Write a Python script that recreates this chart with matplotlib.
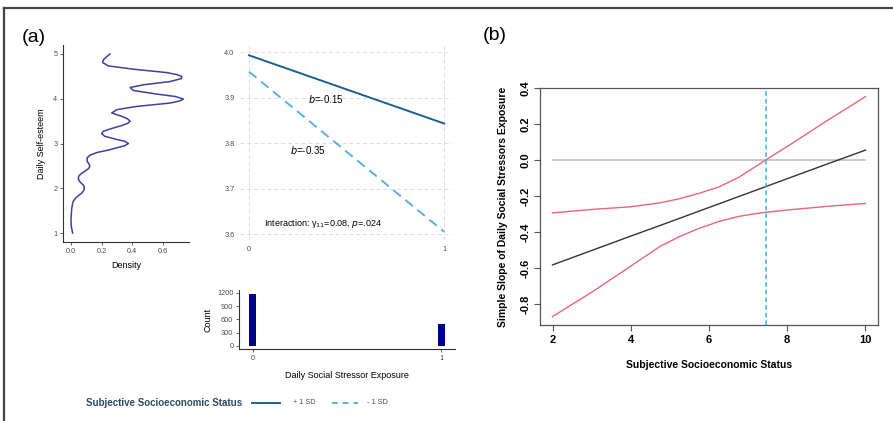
import matplotlib
matplotlib.use("Agg")
import matplotlib.pyplot as plt
from matplotlib.lines import Line2D

plt.rcParams['font.family'] = ['Liberation Sans', 'DejaVu Sans']

# ---- data ----
# density of daily self-esteem (panel a, left)
dens_y = [1.0, 1.15, 1.3, 1.52, 1.65, 1.71, 1.78, 1.84, 1.89, 1.95, 2.0, 2.05, 2.1, 2.15, 2.21,
          2.27, 2.33, 2.38, 2.44, 2.49, 2.54, 2.6, 2.68, 2.74, 2.8, 2.85, 2.904, 2.95, 3.0,
          3.05, 3.089, 3.162, 3.22, 3.273, 3.34, 3.4, 3.45, 3.496, 3.55, 3.607, 3.682, 3.756,
          3.829, 3.87, 3.904, 3.95, 3.993, 4.05, 4.104, 4.184, 4.251, 4.311, 4.384, 4.45,
          4.496, 4.54, 4.584, 4.66, 4.733, 4.807, 4.867, 4.93, 5.0]
dens_x = [0.011, 0.002, 0.0, 0.004, 0.01, 0.015, 0.03, 0.05, 0.07, 0.083, 0.087, 0.085, 0.072,
          0.057, 0.048, 0.05, 0.068, 0.09, 0.115, 0.123, 0.118, 0.106, 0.105, 0.125, 0.17,
          0.24, 0.3, 0.35, 0.375, 0.35, 0.3, 0.22, 0.2, 0.211, 0.27, 0.331, 0.37, 0.386, 0.37,
          0.331, 0.266, 0.3, 0.43, 0.55, 0.647, 0.71, 0.734, 0.68, 0.56, 0.407, 0.386, 0.473,
          0.647, 0.72, 0.723, 0.69, 0.625, 0.407, 0.244, 0.207, 0.211, 0.23, 0.255]

# predicted self-esteem by stressor exposure (panel a, right)
exposure = [0, 1]
high_ses = [3.993, 3.843]   # +1 SD
low_ses = [3.957, 3.605]    # -1 SD

# counts of stressor exposure
count_x = [0, 1]
counts = [1175, 490]

# simple slopes / Johnson-Neyman (panel b)
ses = [2, 3, 4, 4.75, 5.25, 5.75, 6.25, 6.75, 7.2, 7.45, 8, 9, 10]
slope = [-0.583, -0.503, -0.423, -0.364, -0.324, -0.284, -0.244, -0.204, -0.168, -0.148,
         -0.104, -0.024, 0.055]
upper = [-0.294, -0.275, -0.26, -0.238, -0.215, -0.185, -0.15, -0.098, -0.035, 0.0, 0.075,
         0.216, 0.352]
lower = [-0.87, -0.735, -0.59, -0.48, -0.425, -0.38, -0.342, -0.314, -0.298, -0.291, -0.278,
         -0.258, -0.241]
jn_point = 7.45

W, H = 893, 421
fig = plt.figure(figsize=(W / 100, H / 100), dpi=100)


def box(l, t, r, b):
    return [l / W, 1 - b / H, (r - l) / W, (b - t) / H]


gray_txt = "#4d4d4d"

# frame lines
fig.add_artist(Line2D([4 / W, 4 / W], [0, 1 - 8 / H], color="#444444", lw=1.6))
fig.add_artist(Line2D([4 / W, 1], [1 - 8 / H, 1 - 8 / H], color="#444444", lw=1.6))

fig.text(22 / W, 1 - 38 / H, "(a)", fontsize=14, va="center", ha="left")
fig.text(483 / W, 1 - 35 / H, "(b)", fontsize=14, va="center", ha="left")

# density panel
ax1 = fig.add_axes(box(63, 45, 189, 242))
ax1.plot(dens_x, dens_y, color="#3f3f9f", lw=1.1)
ax1.set_xlim(-0.052, 0.77)
ax1.set_ylim(0.8, 5.2)
ax1.set_xticks([0.0, 0.2, 0.4, 0.6])
ax1.set_xticklabels(["0.0", "0.2", "0.4", "0.6"])
ax1.set_yticks([1, 2, 3, 4, 5])
for s in ["top", "right"]:
    ax1.spines[s].set_visible(False)
for s in ["left", "bottom"]:
    ax1.spines[s].set_color("#333333")
    ax1.spines[s].set_linewidth(0.8)
ax1.tick_params(labelsize=5.3, colors=gray_txt, length=2, width=0.6, pad=2)
ax1.set_xlabel("Density", fontsize=6.5, labelpad=5)
ax1.set_ylabel("Daily Self-esteem", fontsize=6.5, labelpad=5)

# interaction lines
ax2 = fig.add_axes(box(240, 43, 452, 240))
ax2.plot(exposure, high_ses, color="#1c5f8f", lw=1.4)
ax2.plot(exposure, low_ses, color="#5ab0e2", lw=1.4, ls=(0, (5, 3)))
ax2.set_xlim(-0.046, 1.04)
ax2.set_ylim(3.587, 4.02)
ax2.set_xticks([0, 1])
ax2.set_yticks([3.6, 3.7, 3.8, 3.9, 4.0])
ax2.grid(True, color="#dcdcdc", ls=(0, (4, 3)), lw=0.7)
for s in ax2.spines.values():
    s.set_visible(False)
ax2.tick_params(labelsize=5.3, colors=gray_txt, length=0, pad=4)
ax2.text(0.30, 3.897, "$b$=-0.15", fontsize=7, va="center")
ax2.text(0.21, 3.785, "$b$=-0.35", fontsize=7, va="center")
ax2.text(0.077, 3.624, "Interaction: γ$_{11}$=0.08, $p$=.024", fontsize=6.5, va="center")

# exposure counts
ax3 = fig.add_axes(box(239, 290, 455, 349))
ax3.bar(count_x, counts, width=0.037, color="#00008b")
ax3.set_xlim(-0.074, 1.074)
ax3.set_ylim(-68, 1267)
ax3.set_xticks([0, 1])
ax3.set_yticks([0, 300, 600, 900, 1200])
for s in ["top", "right"]:
    ax3.spines[s].set_visible(False)
for s in ["left", "bottom"]:
    ax3.spines[s].set_color("#333333")
    ax3.spines[s].set_linewidth(0.8)
ax3.tick_params(labelsize=5.3, colors=gray_txt, length=2, width=0.6, pad=2)
ax3.set_ylabel("Count", fontsize=6.5, labelpad=3)
ax3.set_xlabel("Daily Social Stressor Exposure", fontsize=6.5, labelpad=7)

# legend row
fig.text(86 / W, 1 - 403 / H, "Subjective Socioeconomic Status", fontsize=7, fontweight="bold",
         color="#2f4a60", va="center")
fig.add_artist(Line2D([252 / W, 280 / W], [1 - 403 / H] * 2, color="#1c5f8f", lw=1.4))
fig.text(293 / W, 1 - 403 / H, "+ 1 SD", fontsize=5.3, color=gray_txt, va="center")
fig.add_artist(Line2D([332 / W, 358 / W], [1 - 403 / H] * 2, color="#5ab0e2", lw=1.4,
                      ls=(0, (3, 2.5))))
fig.text(367 / W, 1 - 403 / H, "- 1 SD", fontsize=5.3, color=gray_txt, va="center")

# panel b
ax4 = fig.add_axes(box(540, 88, 878, 325))
ax4.plot([ses[0], ses[-1]], [0, 0], color="#c8c8c8", lw=1.4)
ax4.plot(ses, slope, color="#333333", lw=1.0)
ax4.plot(ses, upper, color="#e8667a", lw=1.0)
ax4.plot(ses, lower, color="#e8667a", lw=1.0)
ax4.axvline(jn_point, color="#3cb0e0", lw=1.1, ls=(0, (3, 2)))
ax4.set_xlim(1.68, 10.32)
ax4.set_ylim(-0.917, 0.4)
ax4.set_xticks([2, 4, 6, 8, 10])
ax4.set_yticks([-0.8, -0.6, -0.4, -0.2, 0.0, 0.2, 0.4])
ax4.set_yticklabels(["-0.8", "-0.6", "-0.4", "-0.2", "0.0", "0.2", "0.4"], rotation=90, va="center")
for s in ax4.spines.values():
    s.set_color("#555555")
    s.set_linewidth(0.9)
ax4.tick_params(labelsize=8, length=4, width=0.8, color="#555555", pad=3)
for lab in ax4.get_xticklabels() + ax4.get_yticklabels():
    lab.set_fontweight("bold")
ax4.set_xlabel("Subjective Socioeconomic Status", fontsize=7.5, fontweight="bold", labelpad=11)
ax4.set_ylabel("Simple Slope of Daily Social Stressors Exposure", fontsize=7.5, fontweight="bold",
               labelpad=9)

fig.savefig("out.png", dpi=100)
